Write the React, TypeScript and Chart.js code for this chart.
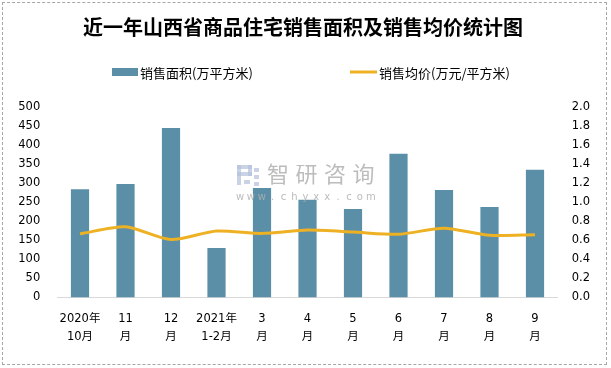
import React, { useEffect, useRef } from "react";
import { Chart, registerables } from "chart.js";

Chart.register(...registerables);

const categories: string[][] = [
  ["2020年", "10月"],
  ["11", "月"],
  ["12", "月"],
  ["2021年", "1-2月"],
  ["3", "月"],
  ["4", "月"],
  ["5", "月"],
  ["6", "月"],
  ["7", "月"],
  ["8", "月"],
  ["9", "月"],
];
const salesArea: number[] = [285, 299, 446, 130, 288, 257, 233, 378, 283, 238, 336];
const avgPrice: number[] = [0.67, 0.745, 0.61, 0.7, 0.675, 0.71, 0.69, 0.665, 0.73, 0.655, 0.66];
const areaLabel = "销售面积(万平方米)";
const priceLabel = "销售均价(万元/平方米)";
const titleText = "近一年山西省商品住宅销售面积及销售均价统计图";

const BAR_COLOR = "#5B8FA7";
const LINE_COLOR = "#EDB123";
const SANS = "'DejaVu Sans', 'Noto Sans CJK SC', sans-serif";
const CJK = "'Noto Sans CJK SC', sans-serif";

const decorPlugin = {
  id: "decor",
  afterDatasetsDraw(chart: any) {
    const ctx = chart.ctx as CanvasRenderingContext2D;
    ctx.save();
    // watermark logo
    ctx.globalAlpha = 0.7;
    ctx.fillStyle = "#b3c0dc";
    ctx.fillRect(237, 165, 15, 4);
    ctx.fillRect(248, 165, 4, 11);
    ctx.fillRect(237, 172, 15, 4);
    ctx.fillRect(237, 165, 4, 20);
    ctx.fillRect(244, 180, 6, 4);
    ctx.fillRect(254, 168, 5, 4);
    ctx.fillRect(254, 175, 5, 4);
    ctx.fillRect(254, 182, 5, 4);
    // watermark text
    ctx.globalAlpha = 0.85;
    ctx.fillStyle = "#b0b0b0";
    ctx.font = `22px ${CJK}`;
    ctx.textBaseline = "middle";
    ctx.textAlign = "center";
    const wm = "智研咨询";
    for (let i = 0; i < wm.length; i++) {
      ctx.fillText(wm[i], 278 + i * 28.5, 174);
    }
    ctx.font = `10px ${SANS}`;
    const url = "www.chyxx.com";
    for (let i = 0; i < url.length; i++) {
      ctx.fillText(url[i], 240 + i * 10.9, 197);
    }
    ctx.restore();

    // title
    ctx.save();
    ctx.fillStyle = "#000";
    ctx.font = `bold 20px ${CJK}`;
    ctx.textAlign = "center";
    ctx.textBaseline = "middle";
    ctx.fillText(titleText, 303, 27);

    // legend
    ctx.font = `13px ${CJK}`;
    ctx.textAlign = "left";
    ctx.fillStyle = BAR_COLOR;
    ctx.fillRect(112, 68, 26, 8);
    ctx.fillStyle = "#000";
    ctx.fillText(areaLabel, 140, 73);
    ctx.strokeStyle = LINE_COLOR;
    ctx.lineWidth = 3;
    ctx.beginPath();
    ctx.moveTo(350, 72);
    ctx.lineTo(377, 72);
    ctx.stroke();
    ctx.fillText(priceLabel, 379, 73);
    ctx.restore();
  },
};

export default function App() {
  const ref = useRef<HTMLCanvasElement | null>(null);

  useEffect(() => {
    document.body.style.margin = "0";
    const canvas = ref.current;
    if (!canvas) return;
    const chart = new Chart(canvas, {
      data: {
        labels: categories,
        datasets: [
          {
            type: "line",
            label: priceLabel,
            data: avgPrice,
            yAxisID: "y1",
            borderColor: LINE_COLOR,
            backgroundColor: LINE_COLOR,
            borderWidth: 3,
            pointRadius: 0,
            tension: 0.25,
            order: 0,
          },
          {
            type: "bar",
            label: areaLabel,
            data: salesArea,
            yAxisID: "y",
            backgroundColor: BAR_COLOR,
            barPercentage: 0.4,
            categoryPercentage: 1,
            order: 1,
          },
        ],
      } as any,
      options: {
        responsive: false,
        animation: false,
        layout: { padding: { top: 107.5, left: 0, right: 0, bottom: 0 } },
        plugins: {
          legend: { display: false },
          title: { display: false },
          tooltip: { enabled: false },
        },
        scales: {
          x: {
            grid: { display: false, drawTicks: false },
            border: { display: true, color: "#d9d9d9", width: 1 },
            ticks: {
              color: "#000",
              font: { family: SANS, size: 11.5, lineHeight: 1.6 },
              padding: 12,
              maxRotation: 0,
              autoSkip: false,
            },
            afterFit(scale: any) {
              scale.height = 70.5;
            },
          },
          y: {
            position: "left",
            min: 0,
            max: 500,
            grid: { display: false, drawTicks: false },
            border: { display: false },
            ticks: {
              stepSize: 50,
              color: "#000",
              font: { family: SANS, size: 11.5 },
              padding: 17,
            },
            afterFit(scale: any) {
              scale.width = 57.25;
            },
          },
          y1: {
            position: "right",
            min: 0,
            max: 2,
            grid: { display: false, drawTicks: false },
            border: { display: false },
            ticks: {
              stepSize: 0.2,
              color: "#000",
              font: { family: SANS, size: 11.5 },
              padding: 14,
              callback: (v: any) => Number(v).toFixed(1),
            },
            afterFit(scale: any) {
              scale.width = 53.25;
            },
          },
        },
      } as any,
      plugins: [decorPlugin],
    });
    return () => chart.destroy();
  }, []);

  return (
    <div style={{ position: "relative", width: 611, height: 368, background: "#fff" }}>
      <canvas ref={ref} width={611} height={368} style={{ display: "block" }} />
      <div
        style={{
          position: "absolute",
          left: 2,
          top: 2,
          width: 603,
          height: 361,
          border: "1px dashed #a6a6a6",
          pointerEvents: "none",
        }}
      />
    </div>
  );
}
